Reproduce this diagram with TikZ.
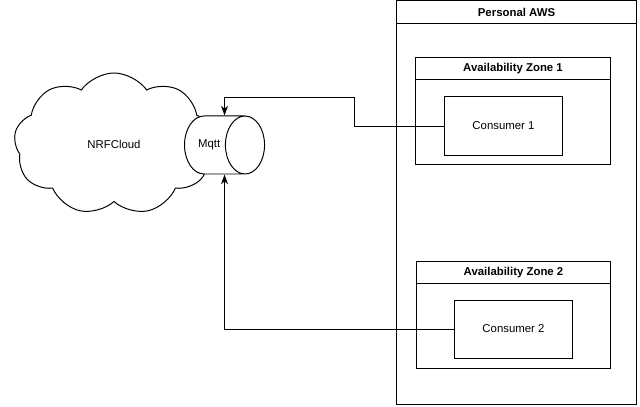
\documentclass[tikz,border=0pt]{standalone}
\usepackage{fontspec}
\setmainfont{Liberation Sans}
\usetikzlibrary{arrows.meta,positioning,calc,shapes.geometric,shapes.symbols}

\begin{document}
\begin{tikzpicture}[x=0.025cm, y=-0.025cm, line width=0.7pt,
  font=\fontsize{8.1}{9.7}\selectfont,
  frame/.style={rectangle, draw, inner sep=0pt},
  header/.style={rectangle, draw, inner sep=0pt, font=\fontsize{8.1}{9.7}\selectfont\bfseries},
  consumer/.style={rectangle, draw, minimum width=2.925cm, minimum height=1.45cm},
  link/.style={-{Stealth[length=7pt,width=5pt]}}]
  \useasboundingbox (0,0) rectangle (640,407);

  % cloud and broker
  \node (cloud) [cloud, draw, cloud puffs=9, cloud puff arc=110, aspect=1.4, minimum width=5cm, minimum height=3.55cm] at (114,144) {NRFCloud};
  \node (mqtt) [cylinder, draw, fill=white, shape aspect=2, minimum height=1.95cm, minimum width=1.45cm, anchor=west] at (184,145) {Mqtt};
  \coordinate (mqttmid) at ($(mqtt.west)!0.5!(mqtt.east)$);

  % personal account
  \node (aws) [frame, minimum width=5.975cm, minimum height=10.1cm] at (516.5,202.8) {};
  \node (awshead) [header, minimum width=5.975cm, minimum height=0.57cm, anchor=north] at (aws.north) {Personal AWS};

  \node (zone1) [frame, minimum width=4.85cm, minimum height=2.65cm] at (513,111) {};
  \node (zone1head) [header, minimum width=4.85cm, minimum height=0.55cm, anchor=north] at (zone1.north) {Availability Zone 1};
  \node (cons1) [consumer] at (503.5,126) {Consumer 1};

  \node (zone2) [frame, minimum width=4.83cm, minimum height=2.65cm] at (513.5,315) {};
  \node (zone2head) [header, minimum width=4.83cm, minimum height=0.53cm, anchor=north] at (zone2.north) {Availability Zone 2};
  \node (cons2) [consumer] at (513.5,329) {Consumer 2};

  % connections
  \coordinate (bend1) at (354,97);
  \draw[link] (cons1.west) -| (bend1) -| (mqttmid |- mqtt.north);
  \draw[link] (cons2.west) -| (mqttmid |- mqtt.south);
\end{tikzpicture}
\end{document}
